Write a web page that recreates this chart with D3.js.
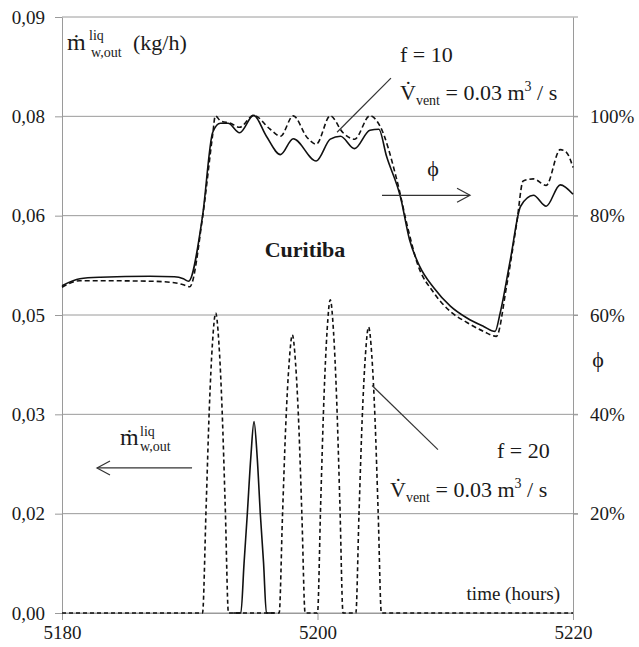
<!DOCTYPE html>
<html>
  <head>
    <meta charset="utf-8">
    <script src="https://d3js.org/d3.v7.min.js"></script>
    <title>Curitiba - liquid water outflow and relative humidity</title>
    <style>
      body { margin: 0px; background: #fff; }
    </style>
  </head>
  <body>
    <svg width="639" height="647"></svg>
    <script>
      // --- data ---
      // relative humidity phi (%), right axis
      const phi10Time = [5180, 5181.4, 5183.0, 5186.9, 5188.8, 5189.5, 5189.9, 5191.0, 5191.8, 5192.4,
        5193.0, 5193.9, 5195.0, 5196.0, 5197.1, 5198.1, 5199.9, 5201.0, 5201.8, 5202.9,
        5204.1, 5204.8, 5205.4, 5206.5, 5207.2, 5208.0, 5209.1, 5210.4, 5211.7, 5213.0,
        5213.9, 5214.3, 5215.1, 5215.9, 5216.9, 5217.9, 5219.0, 5220];
      const phi10 = [65.9, 67.3, 67.6, 67.8, 67.7, 67.3, 66.8, 79.9, 96.8, 98.6,
        98.6, 96.7, 100.2, 96.0, 92.3, 95.5, 91.0, 95.4, 96.0, 93.5,
        97.2, 97.4, 92.0, 83.7, 75.2, 69.8, 65.5, 61.8, 59.4, 57.7,
        56.7, 60.4, 71.2, 81.9, 84.1, 81.9, 86.2, 84.3];

      const phi20Time = [5180, 5181.4, 5183.0, 5186.9, 5188.8, 5189.5, 5190.0, 5191.0, 5191.8, 5192.0,
        5192.4, 5193.2, 5193.9, 5195.0, 5196.3, 5197.1, 5198.1, 5199.2, 5199.9, 5201.0,
        5202.0, 5202.9, 5204.1, 5204.9, 5206.2, 5207.1, 5207.8, 5209.1, 5210.4, 5211.7,
        5213.0, 5214.0, 5214.8, 5215.6, 5216.1, 5216.9, 5217.9, 5219.0, 5219.5, 5220];
      const phi20 = [65.6, 66.9, 66.9, 66.8, 66.5, 66.1, 65.7, 79.6, 96.4, 100.1,
        99.1, 98.6, 97.8, 100.2, 97.4, 96.0, 100.1, 95.7, 94.4, 100.1,
        96.7, 95.4, 100.1, 98.0, 87.3, 77.2, 70.5, 64.5, 60.7, 58.5,
        56.7, 55.7, 65.8, 78.6, 87.0, 87.4, 86.1, 93.3, 92.7, 89.7];

      // liquid water outflow (kg/h), left axis
      const mass10Time = [5193.4, 5194.0, 5194.25, 5194.5, 5194.78, 5195.03, 5195.28, 5195.53, 5195.78, 5196.0, 5196.6];
      const mass10 = [0, 0, 0.0075, 0.0148, 0.0235, 0.0289, 0.0235, 0.0148, 0.0075, 0, 0];

      const mass20Time = [5180,
        5191.0, 5191.28, 5191.53, 5191.78, 5192.03, 5192.28, 5192.53, 5192.78, 5193.03,
        5197.0, 5197.26, 5197.52, 5197.78, 5198.03, 5198.28, 5198.53, 5198.78, 5199.03,
        5200.0, 5200.25, 5200.5, 5200.75, 5201.0, 5201.25, 5201.5, 5201.75, 5202.0,
        5203.0, 5203.25, 5203.5, 5203.75, 5204.0, 5204.25, 5204.5, 5204.75, 5205.0,
        5220];
      const mass20 = [0,
        0, 0.0159, 0.0308, 0.0408, 0.0453, 0.0408, 0.0308, 0.0159, 0,
        0, 0.0147, 0.0286, 0.0378, 0.0420, 0.0378, 0.0286, 0.0147, 0,
        0, 0.0166, 0.0322, 0.0426, 0.0473, 0.0426, 0.0322, 0.0166, 0,
        0, 0.0151, 0.0294, 0.0389, 0.0432, 0.0389, 0.0294, 0.0151, 0,
        0];

      // axes
      const xTicks = [5180, 5200, 5220];
      const leftTicks = [0, 0.015, 0.03, 0.045, 0.06, 0.075, 0.09];
      const leftTickLabels = ['0,00', '0,02', '0,03', '0,05', '0,06', '0,08', '0,09'];
      const rightTicks = [20, 40, 60, 80, 100];
      const rightTickLabels = ['20%', '40%', '60%', '80%', '100%'];

      const serif = 'Liberation Serif';

      // --- layout ---
      const svg = d3.select('svg');
      const width = +svg.attr('width');
      const height = +svg.attr('height');
      const margin = { left: 62, right: 66, top: 17, bottom: 34 };
      const innerWidth = width - margin.left - margin.right;
      const innerHeight = height - margin.top - margin.bottom;
      const g = svg.append('g')
          .attr('transform', `translate(${margin.left}, ${margin.top})`);

      const xScale = d3.scaleLinear().domain([5180, 5220]).range([0, innerWidth]);
      const yLeft = d3.scaleLinear().domain([0, 0.09]).range([innerHeight, 0]);
      const yRight = d3.scaleLinear().domain([0, 120]).range([innerHeight, 0]);

      // horizontal grid (runs a few px past the right axis like the ticks)
      g.append('g').attr('class', 'grid')
        .selectAll('line').data(leftTicks).enter().append('line')
          .attr('x1', 0).attr('x2', d => d === 0 ? innerWidth : innerWidth + 5)
          .attr('y1', d => yLeft(d)).attr('y2', d => yLeft(d))
          .attr('stroke', '#9a9a9a');

      // left axis
      g.append('g')
          .call(d3.axisLeft(yLeft)
            .tickValues(leftTicks)
            .tickFormat((d, i) => leftTickLabels[i])
            .tickSize(7).tickSizeOuter(0).tickPadding(10));

      // right axis
      g.append('g')
          .attr('transform', `translate(${innerWidth}, 0)`)
          .call(d3.axisRight(yRight)
            .tickValues(rightTicks)
            .tickFormat((d, i) => rightTickLabels[i])
            .tickSize(5).tickSizeOuter(0).tickPadding(12));

      // bottom axis
      g.append('g')
          .attr('transform', `translate(0, ${innerHeight})`)
          .call(d3.axisBottom(xScale)
            .tickValues(xTicks)
            .tickFormat(d3.format('d'))
            .tickSize(7).tickSizeOuter(0).tickPadding(6));

      g.selectAll('.tick line, .domain').attr('stroke', '#9a9a9a');
      g.selectAll('.tick text')
          .attr('fill', '#1a1a1a')
          .attr('font-size', 19)
          .attr('font-family', serif);

      // --- curves ---
      const lineOf = (ts, vs, yS) => d3.line()
          .x((d, i) => xScale(ts[i]))
          .y((d, i) => yS(vs[i]))
          .curve(d3.curveMonotoneX)(vs);

      const curves = [
        { ts: mass10Time, vs: mass10, y: yLeft, dash: null },
        { ts: mass20Time, vs: mass20, y: yLeft, dash: '4,3' },
        { ts: phi10Time, vs: phi10, y: yRight, dash: null },
        { ts: phi20Time, vs: phi20, y: yRight, dash: '5,3' }
      ];
      g.selectAll('path.curve').data(curves).enter().append('path')
          .attr('class', 'curve')
          .attr('d', c => lineOf(c.ts, c.vs, c.y))
          .attr('fill', 'none')
          .attr('stroke', '#111')
          .attr('stroke-width', 1.6)
          .attr('stroke-dasharray', c => c.dash);

      // --- annotations (placed in data coordinates) ---
      const ann = g.append('g').attr('stroke', '#333').attr('stroke-width', 1.2).attr('fill', 'none');
      // leader lines
      ann.append('line')
          .attr('x1', xScale(5205.75)).attr('y1', yRight(107.7))
          .attr('x2', xScale(5201.53)).attr('y2', yRight(96.8));
      ann.append('line')
          .attr('x1', xScale(5204.27)).attr('y1', yRight(45.8))
          .attr('x2', xScale(5209.43)).attr('y2', yRight(32.9));

      // arrows
      const arrow = (t1, t2, v) => {
        const x1 = xScale(t1), x2 = xScale(t2), y = yRight(v);
        const dir = x2 > x1 ? -1 : 1;
        ann.append('line').attr('x1', x1).attr('y1', y).attr('x2', x2).attr('y2', y);
        ann.append('path')
            .attr('d', `M${x2 + dir * 13},${y - 7}L${x2},${y}L${x2 + dir * 13},${y + 7}`);
      };
      arrow(5205.05, 5211.94, 84.1);
      arrow(5190.18, 5182.74, 29.2);

      // --- text ---
      const T = (x, y, str, size, opts = {}) => svg.append('text')
          .attr('x', x).attr('y', y)
          .attr('font-size', size)
          .attr('font-family', serif)
          .attr('fill', '#1a1a1a')
          .attr('font-weight', opts.bold ? 'bold' : null)
          .attr('text-anchor', opts.anchor || 'start')
          .text(str);

      // y label top left
      T(67, 50, 'ṁ', 24);
      T(89, 40, 'liq', 14);
      T(91, 57, 'w,out', 14);
      T(133, 50, '(kg/h)', 22);

      // m-dot label near left arrow
      T(120, 445, 'ṁ', 24);
      T(140, 436, 'liq', 14);
      T(140, 451, 'w,out', 14);

      // phi labels
      T(433, 176, 'ϕ', 22, { anchor: 'middle' });
      T(598, 367, 'ϕ', 22, { anchor: 'middle' });

      T(305, 257, 'Curitiba', 22, { bold: true, anchor: 'middle' });
      T(560, 600, 'time (hours)', 19, { anchor: 'end' });

      // flow rate labels
      const vLabel = (x, y) => {
        const t = svg.append('text').attr('x', x).attr('y', y)
            .attr('font-size', 22).attr('font-family', serif).attr('fill', '#1a1a1a');
        t.append('tspan').text('V\u0307');
        t.append('tspan').attr('font-size', 14).attr('dy', 5).text('vent');
        t.append('tspan').attr('dy', -5).text(' = 0.03 m');
        t.append('tspan').attr('font-size', 14).attr('dy', -9).text('3');
        t.append('tspan').attr('dy', 9).text(' / s');
      };
      T(400, 62, 'f = 10', 22);
      vLabel(400, 100);
      T(497, 458, 'f = 20', 22);
      vLabel(390, 497);
    </script>
  </body>
</html>
